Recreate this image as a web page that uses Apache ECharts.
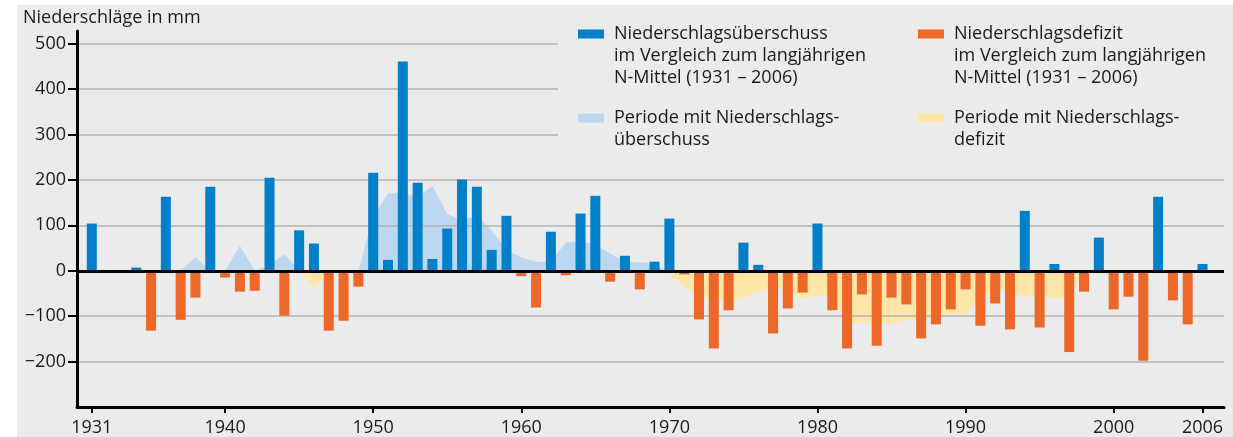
<!DOCTYPE html>
<html>
<head>
<meta charset="utf-8">
<script src="https://cdn.jsdelivr.net/npm/echarts@6/dist/echarts.min.js"></script>
<style>
  html, body { margin: 0; padding: 0; background: #fff; }
  #main { width: 1233px; height: 437px; }
</style>
</head>
<body>
<div id="main"></div>
<script>
// Abweichung vom langjährigen Mittel je Jahr (1931 - 2006), in mm
const firstYear = 1931;
const deviation = [
  104, 0, 0, 7, -132, 163, -108, -59, 185, -15,       // 1931-1940
  -46, -44, 205, -99, 89, 60, -132, -110, -35, 216,   // 1941-1950
  24, 461, 194, 26, 93, 201, 185, 46, 121, -12,       // 1951-1960
  -81, 86, -10, 126, 165, -24, 33, -41, 20, 115,      // 1961-1970
  -8, -107, -171, -87, 62, 13, -138, -83, -48, 104,   // 1971-1980
  -87, -171, -52, -165, -59, -74, -149, -118, -85, -41, // 1981-1990
  -121, -72, -129, 132, -125, 15, -179, -46, 73, -85, // 1991-2000
  -57, -198, 163, -65, -118, 15                       // 2001-2006
];
// geglätteter Verlauf (Perioden mit Überschuss / Defizit)
const periodMean = [
  0, 0, 0, 0, 0, 0, 0, 30, 0, 0,
  55, 0, 12, 37, 0, -38, -8, 0, 0, 120,
  170, 172, 162, 187, 125, 112, 120, 90, 45, 30,
  20, 20, 62, 65, 58, 38, 20, 18, 17, -8,
  -35, -58, -62, -68, -60, -47, -36, -45, -62, -52,
  -60, -112, -115, -113, -117, -108, -107, -102, -97, -95,
  -58, -45, -42, -58, -50, -62, -55, 0, 0, 0,
  0, 0, 0, 0, 0, 0
];
const xTicks = [1931, 1940, 1950, 1960, 1970, 1980, 1990, 2000, 2006];
const yTicks = [-200, -100, 0, 100, 200, 300, 400, 500];

const names = {
  surplus: 'Niederschlagsüberschuss im Vergleich zum langjährigen N-Mittel (1931 – 2006)',
  deficit: 'Niederschlagsdefizit im Vergleich zum langjährigen N-Mittel (1931 – 2006)',
  periodPlus: 'Periode mit Niederschlagsüberschuss',
  periodMinus: 'Periode mit Niederschlagsdefizit'
};
const legendLines = {};
legendLines[names.surplus] = ['Niederschlagsüberschuss', 'im Vergleich zum langjährigen', 'N-Mittel (1931 – 2006)'];
legendLines[names.deficit] = ['Niederschlagsdefizit', 'im Vergleich zum langjährigen', 'N-Mittel (1931 – 2006)'];
legendLines[names.periodPlus] = ['Periode mit Niederschlags-', 'überschuss'];
legendLines[names.periodMinus] = ['Periode mit Niederschlags-', 'defizit'];

const blue = '#0080c8', orange = '#eb6828', lightBlue = '#bdd7f0', yellow = '#fee5a8';
const bg = '#ebebeb', font = 'Open Sans', ink = '#1a1a1a';

// Daten für die Serien aufbereiten
const surplusData = [], deficitData = [], periodData = [];
deviation.forEach((v, i) => {
  if (v > 0) surplusData.push([firstYear + i, v]);
  if (v < 0) deficitData.push([firstYear + i, v]);
});
periodMean.forEach((v, i) => periodData.push([firstYear + i, v]));

// Legende: Text wird mittig zum Symbol gesetzt, deshalb Leerzeilen davor,
// damit das Symbol auf Höhe der ersten Zeile steht
function makeLegend(name, left, top, color) {
  const lines = legendLines[name];
  const blank = new Array(lines.length - 1).fill('');
  return {
    data: [name], left: left, top: top, padding: 0,
    selectedMode: false, icon: 'rect', itemWidth: 26, itemHeight: 9,
    itemStyle: { color: color, borderWidth: 0 },
    formatter: () => blank.concat(lines).join('\n'),
    textStyle: { fontFamily: font, fontSize: 18, lineHeight: 22, color: ink, padding: [0, 0, 0, 5] }
  };
}

const myChart = echarts.init(document.getElementById('main'));
myChart.setOption({
  animation: false,
  backgroundColor: bg,
  title: {
    text: 'Niederschläge in mm', left: 23, top: 7, padding: 0,
    textStyle: { fontFamily: font, fontSize: 18, fontWeight: 'normal', color: ink, lineHeight: 22 }
  },
  legend: [
    makeLegend(names.surplus, 578, -21, blue),
    makeLegend(names.deficit, 918, -21, orange),
    makeLegend(names.periodPlus, 578, 85, lightBlue),
    makeLegend(names.periodMinus, 918, 85, yellow)
  ],
  grid: { left: 77, right: 9, top: 31, bottom: 30, containLabel: false, outerBoundsMode: 'none' },
  xAxis: {
    type: 'value', min: 1930, max: 2007.45, z: 1,
    axisLine: { onZero: false, lineStyle: { color: '#000', width: 3 } },
    axisTick: { customValues: xTicks, length: 6, lineStyle: { color: '#000', width: 2 } },
    axisLabel: { customValues: xTicks, margin: 12, fontFamily: font, fontSize: 18, color: ink, formatter: v => String(v) },
    splitLine: { show: false }
  },
  yAxis: {
    type: 'value', min: -300, max: 528, z: 1,
    axisLine: { show: true, lineStyle: { color: '#000', width: 3 } },
    axisTick: { show: true, customValues: yTicks, length: 9, lineStyle: { color: '#000', width: 2 } },
    axisLabel: {
      customValues: yTicks, margin: 11, fontFamily: font, fontSize: 18, color: ink,
      formatter: v => (v < 0 ? '\u2212' + Math.abs(v) : String(v))
    },
    splitLine: { show: true, lineStyle: { color: '#b3b3b3', width: 1.5 } }
  },
  visualMap: [
    { show: false, type: 'piecewise', seriesIndex: 2, dimension: 1,
      pieces: [{ gte: -10000, lt: 0, color: 'rgba(0,0,0,0)' }, { gte: 0, lte: 10000, color: lightBlue }] },
    { show: false, type: 'piecewise', seriesIndex: 3, dimension: 1,
      pieces: [{ gte: -10000, lt: 0, color: yellow }, { gte: 0, lte: 10000, color: 'rgba(0,0,0,0)' }] }
  ],
  graphic: [
    // weisser Rand oben und links
    { type: 'rect', silent: true, z: 10, shape: { x: 0, y: 0, width: 1233, height: 5 }, style: { fill: '#fff' } },
    { type: 'rect', silent: true, z: 10, shape: { x: 0, y: 0, width: 17, height: 437 }, style: { fill: '#fff' } },
    // Hintergrund hinter der Legende
    { type: 'rect', silent: true, z: 3, shape: { x: 558, y: 20, width: 675, height: 140 }, style: { fill: bg } }
  ],
  series: [
    { name: names.surplus, type: 'bar', data: surplusData, barWidth: 10, barGap: '-100%',
      itemStyle: { color: blue }, z: 2 },
    { name: names.deficit, type: 'bar', data: deficitData, barWidth: 10, barGap: '-100%',
      itemStyle: { color: orange }, z: 2,
      markLine: {
        silent: true, symbol: ['none', 'none'], label: { show: false },
        lineStyle: { color: '#000', width: 3, type: 'solid' },
        emphasis: { disabled: true },
        data: [{ yAxis: 0 }]
      } },
    { name: names.periodPlus, type: 'line', data: periodData, showSymbol: false, symbol: 'none',
      lineStyle: { width: 0, opacity: 0 }, areaStyle: { opacity: 1 }, itemStyle: { color: lightBlue }, z: 0 },
    { name: names.periodMinus, type: 'line', data: periodData, showSymbol: false, symbol: 'none',
      lineStyle: { width: 0, opacity: 0 }, areaStyle: { opacity: 1 }, itemStyle: { color: yellow }, z: 0 }
  ]
});
</script>
</body>
</html>
